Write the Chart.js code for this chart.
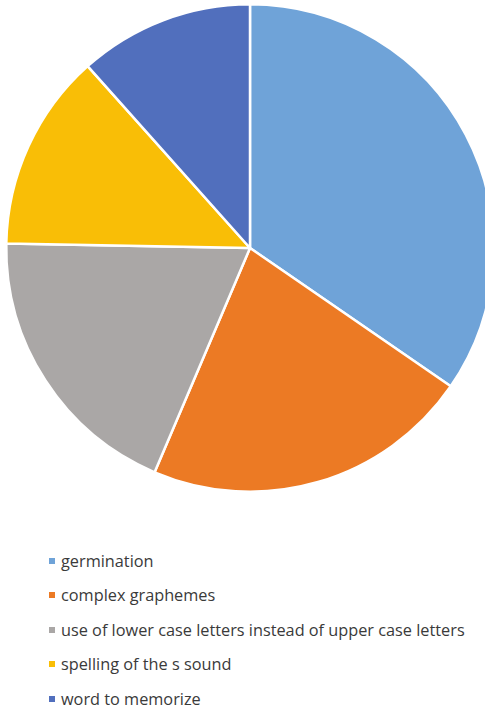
<!DOCTYPE html>
<html><head><meta charset="utf-8">
<script src="https://cdn.jsdelivr.net/npm/chart.js@4.4.1/dist/chart.umd.min.js"></script>
<style>
html,body{margin:0;padding:0;background:#fff;width:485px;height:710px;overflow:hidden;position:relative;}
#c{position:absolute;left:0;top:-2px;}
#legend{position:absolute;left:0;top:0;font-family:"Open Sans",sans-serif;font-size:16.3px;color:#3a3a3a;letter-spacing:0px;}
.item{position:absolute;left:49px;white-space:nowrap;display:flex;align-items:center;}
.sw{width:6px;height:6px;margin-right:6px;}
</style></head><body>
<canvas id="c" width="500" height="500"></canvas>
<div id="legend"></div>
<script>
const categories = ["germination","complex graphemes","use of lower case letters instead of upper case letters","spelling of the s sound","word to memorize"];
const values = [34.6, 21.8, 18.9, 13.1, 11.6];
const colors = ["#6FA3D8","#EC7A24","#AAA7A6","#F9BE06","#516FBD"];

new Chart(document.getElementById('c'), {
  type:'pie',
  data:{labels:categories,datasets:[{data:values,backgroundColor:colors,borderColor:'#ffffff',borderWidth:2.5,hoverOffset:0}]},
  options:{responsive:false,animation:false,layout:{padding:5},
    plugins:{legend:{display:false},tooltip:{enabled:false}}}
});
const lg=document.getElementById('legend');
const tops=[561,595,630,664,699];
categories.forEach((t,i)=>{
  const d=document.createElement('div');d.className='item';
  d.style.top=(tops[i]-10)+'px';d.style.height='20px';
  d.innerHTML='<span class="sw" style="background:'+colors[i]+'"></span><span>'+t+'</span>';
  lg.appendChild(d);
});
</script>
</body></html>
